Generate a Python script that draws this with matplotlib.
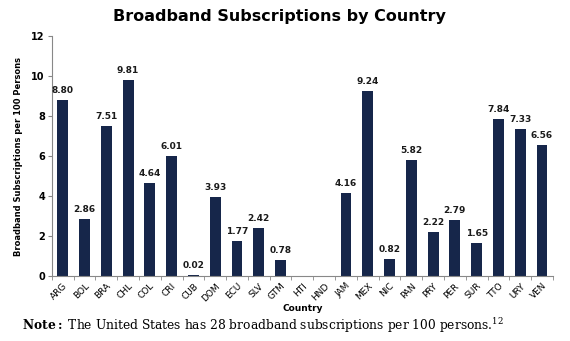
import matplotlib
matplotlib.use("Agg")
import matplotlib.pyplot as plt
import numpy as np

plt.rcParams["mathtext.fontset"] = "dejavuserif"

countries = ["ARG", "BOL", "BRA", "CHL", "COL", "CRI", "CUB", "DOM", "ECU", "SLV", "GTM", "HTI",
             "HND", "JAM", "MEX", "NIC", "PAN", "PRY", "PER", "SUR", "TTO", "URY", "VEN"]
values = [8.80, 2.86, 7.51, 9.81, 4.64, 6.01, 0.02, 3.93, 1.77, 2.42, 0.78, None,
          None, 4.16, 9.24, 0.82, 5.82, 2.22, 2.79, 1.65, 7.84, 7.33, 6.56]
yticks = [0, 2, 4, 6, 8, 10, 12]

fig = plt.figure(figsize=(5.70, 3.41), dpi=100)
ax = fig.add_axes([0.091, 0.191, 0.879, 0.703])

x = np.arange(len(countries))
vals = [np.nan if v is None else v for v in values]
bars = ax.bar(x, vals, width=0.5, color="#16264a")
for xi, v in zip(x, values):
    if v is not None:
        ax.text(xi, v + 0.25, f"{v:.2f}", ha="center", va="bottom", fontsize=6.5,
                fontweight="bold", color="#1a1a1a")

ax.set_xlim(-0.5, len(countries) - 0.5)
ax.set_ylim(0, 12)
ax.set_yticks(yticks)
ax.set_yticklabels([str(t) for t in yticks], fontsize=7, fontweight="bold")
ax.set_xticks(x)
ax.set_xticklabels(countries, rotation=45, ha="right", rotation_mode="anchor", fontsize=6.5)
ax.tick_params(axis="x", which="major", length=0, pad=4)
ax.set_xticks(np.arange(-0.5, len(countries)), minor=True)
ax.tick_params(axis="x", which="minor", length=3, color="#888888")
ax.tick_params(axis="y", length=3, color="#888888", pad=2)
for s in ["top", "right"]:
    ax.spines[s].set_visible(False)
for s in ["left", "bottom"]:
    ax.spines[s].set_color("#888888")
    ax.spines[s].set_linewidth(0.8)

ax.set_ylabel("Broadband Subscriptions per 100 Persons", fontsize=6, fontweight="bold", labelpad=6)
ax.set_xlabel("Country", fontsize=6.5, fontweight="bold", labelpad=1)
fig.suptitle("Broadband Subscriptions by Country", x=0.49, y=0.975, fontsize=11.5, fontweight="bold")

fig.text(0.038, 0.032, r"$\mathbf{Note:}$ The United States has 28 broadband subscriptions per 100 persons.$^{12}$",
         fontsize=8.8, family="DejaVu Serif")

fig.savefig("out.png", dpi=100)
